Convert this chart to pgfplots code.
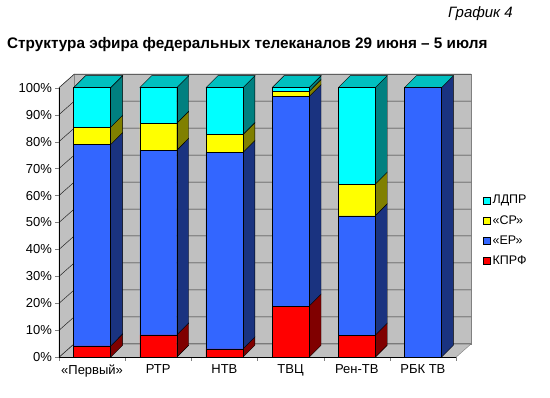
\documentclass[border=0pt]{standalone}
\usepackage{fontspec}
\setmainfont{Liberation Sans}
\usepackage{pgfplots}
\usepackage{pgfplotstable}
\pgfplotsset{compat=1.18}
\definecolor{kprf}{RGB}{255,0,0}
\definecolor{kprfS}{RGB}{128,0,0}
\definecolor{er}{RGB}{51,102,255}
\definecolor{erS}{RGB}{26,51,128}
\definecolor{sr}{RGB}{255,255,0}
\definecolor{srS}{RGB}{128,128,0}
\definecolor{ld}{RGB}{0,255,255}
\definecolor{ldS}{RGB}{0,128,128}
\definecolor{ldT}{RGB}{0,192,192}
\definecolor{wall}{RGB}{192,192,192}
\definecolor{wallE}{RGB}{128,128,128}

\pgfplotstableread{
x K ER SR LD
0 4.2 74.7 6.4 14.7
1 8.3 68.5 10.0 13.2
2 3.1 72.9 6.6 17.4
3 19.0 77.7 1.9 1.4
4 8.2 44.3 11.7 35.8
5 0 100 0 0
}\data

\newcommand\sidef[4]{%
\pgfmathsetmacro\xa{#1+0.2795}\pgfmathsetmacro\xb{#1+0.4605}%
\pgfmathsetmacro\ya{#2+4.45}\pgfmathsetmacro\yb{#3+4.45}%
\edef\temp{\noexpand\addplot[fill=#4, draw=black, line width=0.4pt, forget plot] coordinates {(\xa,#2) (\xb,\ya) (\xb,\yb) (\xa,#3) (\xa,#2)};}\temp}
\newcommand\topf[2]{%
\pgfmathsetmacro\xa{#1-0.2795}\pgfmathsetmacro\xb{#1-0.0985}\pgfmathsetmacro\xc{#1+0.4605}\pgfmathsetmacro\xd{#1+0.2795}\pgfmathsetmacro\ya{#2+4.45}%
\edef\temp{\noexpand\addplot[fill=ldT, draw=black, line width=0.4pt, forget plot] coordinates {(\xa,#2) (\xb,\ya) (\xc,\ya) (\xd,#2) (\xa,#2)};}\temp}
\newcommand\gridl[1]{%
\pgfmathsetmacro\ya{#1+5}%
\edef\temp{\noexpand\addplot[black!85, line width=0.5pt, forget plot] coordinates {(-0.5,#1) (-0.27,\ya) (5.73,\ya)};}\temp}

\begin{document}
\begin{tikzpicture}
\useasboundingbox (0,0) rectangle (550pt,398pt);
\begin{axis}[at={(59pt,40.7pt)}, anchor=south west, scale only axis,
  width=397pt, height=269.6pt, xmin=-0.5, xmax=5.5, ymin=0, ymax=100,
  clip=false, axis lines=none]
\addplot[fill=wall, draw=wallE, forget plot] coordinates {(-0.27,5) (5.73,5) (5.73,105) (-0.27,105) (-0.27,5)};
\addplot[fill=wall, draw=wallE, forget plot] coordinates {(-0.5,0) (-0.27,5) (-0.27,105) (-0.5,100) (-0.5,0)};
\addplot[fill=wall, draw=wallE, forget plot] coordinates {(-0.5,0) (5.5,0) (5.73,5) (-0.27,5) (-0.5,0)};
\gridl{0}\gridl{10}\gridl{20}\gridl{30}\gridl{40}\gridl{50}
\gridl{60}\gridl{70}\gridl{80}\gridl{90}\gridl{100}
% side and top faces
\sidef{0}{0}{4.2}{kprfS}\sidef{0}{4.2}{78.9}{erS}\sidef{0}{78.9}{85.3}{srS}\sidef{0}{85.3}{100}{ldS}\topf{0}{100}
\sidef{1}{0}{8.3}{kprfS}\sidef{1}{8.3}{76.8}{erS}\sidef{1}{76.8}{86.8}{srS}\sidef{1}{86.8}{100}{ldS}\topf{1}{100}
\sidef{2}{0}{3.1}{kprfS}\sidef{2}{3.1}{76.0}{erS}\sidef{2}{76.0}{82.6}{srS}\sidef{2}{82.6}{100}{ldS}\topf{2}{100}
\sidef{3}{0}{19.0}{kprfS}\sidef{3}{19.0}{96.7}{erS}\sidef{3}{96.7}{98.6}{srS}\sidef{3}{98.6}{100}{ldS}\topf{3}{100}
\sidef{4}{0}{8.2}{kprfS}\sidef{4}{8.2}{52.5}{erS}\sidef{4}{52.5}{64.2}{srS}\sidef{4}{64.2}{100}{ldS}\topf{4}{100}
\sidef{5}{0}{100}{erS}\topf{5}{100}
\end{axis}
\begin{axis}[at={(59pt,40.7pt)}, anchor=south west, scale only axis,
  width=397pt, height=269.6pt, xmin=-0.5, xmax=5.5, ymin=0, ymax=100,
  clip=false, axis lines*=left, ybar stacked, bar width=0.559,
  /pgf/number format/assume math mode=true,
  xtick={-0.5,0.5,...,5.5}, xticklabels={},
  extra x ticks={0,1,2,3,4,5},
  extra x tick labels={«Первый»,РТР,НТВ,ТВЦ,Рен-ТВ,РБК ТВ},
  extra x tick style={major tick length=0pt},
  ytick={0,10,...,100}, yticklabel={\pgfmathprintnumber{\tick}\%},
  tick align=outside, major tick length=3.5pt,
  xticklabel style={font=\fontsize{13}{15}\selectfont, yshift=-4pt},
  yticklabel style={font=\fontsize{13}{15}\selectfont},
  reverse legend,
  legend style={at={(1.068,0.47)}, anchor=west, draw=none, fill=none,
    font=\fontsize{12.5}{14}\selectfont, row sep=6pt, inner sep=0pt},
  legend cell align=left,
  legend image code/.code={\draw[#1, draw=black, line width=0.4pt] (0pt,-3.5pt) rectangle (7pt,3.5pt);},
]
\addplot[fill=kprf, draw=black, line width=0.4pt] table[x=x,y=K]{\data};
\addplot[fill=er, draw=black, line width=0.4pt] table[x=x,y=ER]{\data};
\addplot[fill=sr, draw=black, line width=0.4pt] table[x=x,y=SR]{\data};
\addplot[fill=ld, draw=black, line width=0.4pt] table[x=x,y=LD]{\data};
\legend{КПРФ,«ЕР»,«СР»,ЛДПР}
\end{axis}
\node[anchor=west, inner sep=0pt, font=\bfseries\fontsize{15.3}{18}\selectfont] at (7pt,353pt) {Структура эфира федеральных телеканалов 29 июня – 5 июля};
\node[anchor=east, inner sep=0pt, font=\itshape\fontsize{15}{18}\selectfont] at (513pt,384pt) {График 4};
\end{tikzpicture}
\end{document}
